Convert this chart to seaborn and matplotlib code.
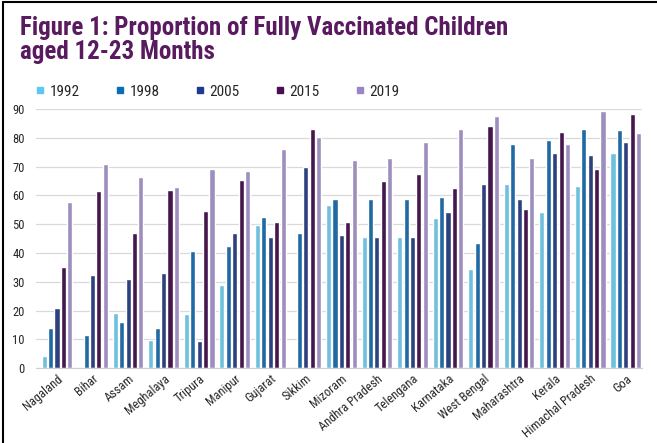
import numpy as np
import pandas as pd
import matplotlib
matplotlib.use('Agg')
import matplotlib.pyplot as plt
import seaborn as sns
from matplotlib.lines import Line2D
from matplotlib import font_manager

# ---- data ----
states = ['Nagaland', 'Bihar', 'Assam', 'Meghalaya', 'Tripura', 'Manipur', 'Gujarat',
          'Sikkim', 'Mizoram', 'Andhra Pradesh', 'Telengana', 'Karnataka', 'West Bengal',
          'Maharashtra', 'Kerala', 'Himachal Pradesh', 'Goa']
years = ['1992', '1998', '2005', '2015', '2019']
v1992 = [4.2, np.nan, 19.3, 9.7, 18.8, 28.7, 49.7, np.nan, 56.6, 45.4, 45.4, 52.1, 34.4, 64.0, 54.3, 63.2, 74.8]
v1998 = [14.0, 11.5, 16.1, 14.0, 40.7, 42.4, 52.5, 47.1, 58.9, 58.6, 58.6, 59.5, 43.6, 77.9, 79.4, 83.2, 82.6]
v2005 = [20.9, 32.5, 31.1, 33.0, 9.5, 46.9, 45.4, 69.7, 46.2, 45.4, 45.4, 54.3, 64.0, 58.6, 74.8, 73.9, 78.5]
v2015 = [35.2, 61.5, 47.0, 62.0, 54.4, 65.4, 50.6, 83.2, 50.6, 65.1, 67.5, 62.5, 84.2, 55.4, 82.1, 69.2, 88.1]
v2019 = [57.8, 70.8, 66.3, 62.9, 69.1, 68.4, 76.0, 80.3, 72.3, 73.1, 78.5, 83.2, 87.6, 73.1, 77.9, 89.2, 81.8]
colors = ['#5cc8f2', '#0b6cb8', '#1f3a8c', '#4b0e55', '#9a86c6']

df = pd.DataFrame({'State': states * 5,
                   'Year': np.repeat(years, len(states)),
                   'Value': v1992 + v1998 + v2005 + v2015 + v2019})

sns.set_style('white')
# condensed fonts if any are installed, else Liberation Sans
installed = {f.name for f in font_manager.fontManager.ttflist}
narrow = [f for f in ['Roboto Condensed', 'Arial Narrow', 'Liberation Sans Narrow',
                      'Open Sans Condensed'] if f in installed]
plt.rcParams['font.family'] = narrow + ['Liberation Sans', 'DejaVu Sans']
condensed = len(narrow) > 0

fig = plt.figure(figsize=(6.57, 4.43), dpi=100)
ax = fig.add_axes([0.0548, 0.169, 0.922, 0.585])

sns.barplot(data=df, x='State', y='Value', hue='Year', palette=colors,
            width=0.9, gap=0.2, ax=ax, legend=False)

ax.set_ylim(0, 90)
ax.set_xlim(-0.59, 16.45)
ax.set_yticks(range(0, 91, 10))
ax.yaxis.grid(True, color='#d9d9d9', linewidth=0.9)
ax.set_axisbelow(True)
for s in ['top', 'right', 'left']:
    ax.spines[s].set_visible(False)
ax.spines['bottom'].set_color('#cfcfcf')
ax.set_xlabel('')
ax.set_ylabel('')
ax.tick_params(axis='y', length=0, labelsize=9 if condensed else 8.5, pad=8)
ax.tick_params(axis='x', length=0, labelsize=9 if condensed else 8, pad=3)
plt.setp(ax.get_xticklabels(), rotation=40, ha='right', rotation_mode='anchor')

# legend
handles = [Line2D([], [], marker='s', linestyle='', color=c, markersize=5) for c in colors]
fig.legend(handles, years, loc='center left', bbox_to_anchor=(0.03, 0.793), ncol=5,
           frameon=False, fontsize=11 if condensed else 9.5, handletextpad=0.15,
           columnspacing=2.2 if condensed else 2.4, handlelength=0.9)

# title
fig.text(0.03, 0.965, 'Figure 1: Proportion of Fully Vaccinated Children\naged 12-23 Months',
         fontsize=18 if condensed else 14, fontweight='bold', color='#5a1a5f',
         va='top', linespacing=1.0)

# frame lines (left and top)
fig.add_artist(Line2D([0.004, 0.004], [0, 0.996], color='black', linewidth=1.5))
fig.add_artist(Line2D([0.004, 1], [0.996, 0.996], color='black', linewidth=1.5))

fig.savefig('out.png', dpi=100)
